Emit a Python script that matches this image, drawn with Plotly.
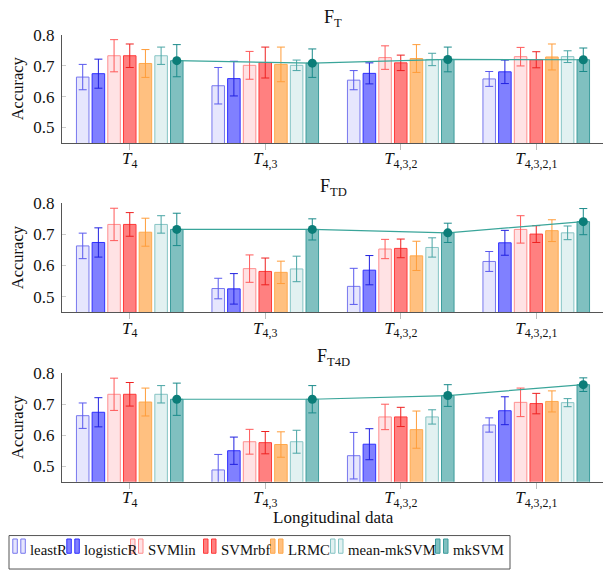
import plotly.graph_objects as go

# ---------------- data ----------------
categories = ["T4", "T4,3", "T4,3,2", "T4,3,2,1"]
tick_labels = ["<i>T</i><sub>4</sub>", "<i>T</i><sub>4,3</sub>",
               "<i>T</i><sub>4,3,2</sub>", "<i>T</i><sub>4,3,2,1</sub>"]
methods = ["leastR", "logisticR", "SVMlin", "SVMrbf", "LRMC", "mean-mkSVM", "mkSVM"]
panel_titles = ["F<sub>T</sub>", "F<sub>TD</sub>", "F<sub>T4D</sub>"]
y_ticks = [0.5, 0.6, 0.7, 0.8]

# mean accuracy, one list per method (over categories)
ft_mean = [
    [0.663, 0.635, 0.653, 0.657],
    [0.674, 0.658, 0.675, 0.680],
    [0.732, 0.701, 0.726, 0.729],
    [0.732, 0.710, 0.709, 0.719],
    [0.707, 0.704, 0.723, 0.728],
    [0.732, 0.701, 0.720, 0.729],
    [0.716, 0.708, 0.720, 0.719],
]
ft_err = [
    [0.041, 0.059, 0.031, 0.024],
    [0.047, 0.056, 0.034, 0.038],
    [0.052, 0.045, 0.038, 0.030],
    [0.038, 0.050, 0.025, 0.026],
    [0.045, 0.056, 0.045, 0.042],
    [0.028, 0.017, 0.020, 0.019],
    [0.052, 0.046, 0.040, 0.038],
]
ftd_mean = [
    [0.663, 0.526, 0.533, 0.613],
    [0.674, 0.525, 0.585, 0.673],
    [0.732, 0.590, 0.653, 0.716],
    [0.732, 0.581, 0.655, 0.701],
    [0.707, 0.578, 0.631, 0.712],
    [0.732, 0.589, 0.658, 0.705],
    [0.716, 0.716, 0.705, 0.741],
]
ftd_err = [
    [0.041, 0.033, 0.058, 0.032],
    [0.047, 0.049, 0.047, 0.040],
    [0.052, 0.044, 0.031, 0.044],
    [0.038, 0.043, 0.030, 0.027],
    [0.045, 0.036, 0.047, 0.035],
    [0.028, 0.041, 0.031, 0.022],
    [0.052, 0.034, 0.031, 0.042],
]
ft4d_mean = [
    [0.663, 0.488, 0.534, 0.633],
    [0.674, 0.550, 0.571, 0.679],
    [0.732, 0.579, 0.659, 0.706],
    [0.732, 0.576, 0.659, 0.702],
    [0.707, 0.570, 0.618, 0.709],
    [0.732, 0.579, 0.659, 0.705],
    [0.716, 0.716, 0.728, 0.763],
]
ft4d_err = [
    [0.041, 0.050, 0.075, 0.023],
    [0.047, 0.044, 0.050, 0.045],
    [0.052, 0.040, 0.041, 0.046],
    [0.038, 0.036, 0.031, 0.033],
    [0.045, 0.041, 0.060, 0.034],
    [0.028, 0.037, 0.023, 0.013],
    [0.052, 0.044, 0.035, 0.022],
]

panels = [(ft_mean, ft_err), (ftd_mean, ftd_err), (ft4d_mean, ft4d_err)]

# ---------------- styles ----------------
fill_colors = ["#e6e6fd", "#8080ff", "#ffe2e4", "#ff8080", "#ffc080", "#e2f1f1", "#80c0c0"]
line_colors = ["#7777ee", "#3030ff", "#ff8f8f", "#ff3a3a", "#ffa94d", "#86c4c4", "#3c9c9c"]
err_colors = ["#5a5aee", "#2020e0", "#ff5a5a", "#ee2020", "#ff9d3a", "#4aa5a5", "#1a8a8a"]
trend_line_color = "#3aa59a"
marker_color = "#0b7d78"

FONT = "Liberation Serif"
PAGE_W, PAGE_H = 611, 570
OFF = 8  # default body margin of the html page
W, H = PAGE_W - OFF, PAGE_H - OFF


def px_x(x):
    return (x - OFF) / W


def px_y(y):
    return 1 - (y - OFF) / H


X_DOM = [px_x(62), px_x(604)]
panel_px = [(26, 136), (197.3, 308), (370, 480.3)]
BARGAP = 0.19
BARGROUPGAP = 0.2
N = len(methods)

fig = go.Figure()
x_idx = list(range(len(categories)))
slot = (1 - BARGAP) / N
mk_offset = (N - 1 - (N - 1) / 2) * slot

for p, (means, errs) in enumerate(panels):
    xa = "x" if p == 0 else f"x{p + 1}"
    ya = "y" if p == 0 else f"y{p + 1}"
    for k, name in enumerate(methods):
        fig.add_trace(go.Bar(
            x=x_idx, y=means[k], name=name, xaxis=xa, yaxis=ya,
            marker=dict(color=fill_colors[k], line=dict(color=line_colors[k], width=1)),
            error_y=dict(type="data", array=errs[k], color=err_colors[k],
                         thickness=1, width=4),
            showlegend=False,
        ))
    mk = means[N - 1]
    fig.add_trace(go.Scatter(
        x=[i + mk_offset for i in x_idx], y=mk, mode="lines+markers",
        xaxis=xa, yaxis=ya, showlegend=False,
        line=dict(color=trend_line_color, width=1.2),
        marker=dict(color=marker_color, size=9),
    ))

layout = dict(
    width=W, height=H, margin=dict(l=0, r=0, t=0, b=0),
    paper_bgcolor="white", plot_bgcolor="white",
    barmode="group", bargap=BARGAP, bargroupgap=BARGROUPGAP,
    font=dict(family=FONT, size=17, color="#111"),
    showlegend=False,
)
annotations = []
for p in range(3):
    top_px, bot_px = panel_px[p]
    xkey = "xaxis" if p == 0 else f"xaxis{p + 1}"
    ykey = "yaxis" if p == 0 else f"yaxis{p + 1}"
    ya = "y" if p == 0 else f"y{p + 1}"
    layout[xkey] = dict(
        domain=X_DOM, anchor=ya, range=[-0.5, len(categories) - 0.5],
        tickvals=x_idx, ticktext=tick_labels, showgrid=False, zeroline=False,
        showline=True, linecolor="#555", linewidth=1.2,
        ticks="outside", ticklen=6, tickcolor="#bbb", tickwidth=1,
        ticklabelstandoff=-6, tickfont=dict(family=FONT, size=17, color="#111"),
    )
    layout[ykey] = dict(
        domain=[px_y(bot_px), px_y(top_px)], anchor="x" if p == 0 else f"x{p + 1}",
        range=[0.45, 0.8], tickvals=y_ticks, ticktext=[f"{v:.1f}" for v in y_ticks],
        showgrid=False, zeroline=False, showline=True, linecolor="#555", linewidth=1,
        ticks="inside", ticklen=4, tickcolor="#ccc", ticklabelstandoff=3,
        tickfont=dict(family=FONT, size=17, color="#111"),
    )
    annotations.append(dict(
        text=panel_titles[p], xref="paper", yref="paper",
        x=(X_DOM[0] + X_DOM[1]) / 2, y=px_y(top_px - 16),
        xanchor="center", yanchor="middle", showarrow=False,
        font=dict(family=FONT, size=18, color="#111"),
    ))
    annotations.append(dict(
        text="Accuracy", xref="paper", yref="paper", textangle=-90,
        x=px_x(17.5), y=px_y((top_px + bot_px) / 2),
        xanchor="center", yanchor="middle", showarrow=False,
        font=dict(family=FONT, size=16.5, color="#111"),
    ))

annotations.append(dict(
    text="Longitudinal data", xref="paper", yref="paper",
    x=(X_DOM[0] + X_DOM[1]) / 2, y=px_y(517), xanchor="center", yanchor="middle",
    showarrow=False, font=dict(family=FONT, size=17, color="#111"),
))

# ---------------- custom legend ----------------
legend_text_x = [29.3, 83.3, 147, 220, 287, 347, 452]
shapes = [dict(type="rect", xref="paper", yref="paper",
               x0=px_x(9), x1=px_x(510), y0=px_y(569), y1=px_y(535),
               line=dict(color="#555", width=1), fillcolor="rgba(0,0,0,0)")]
for k, name in enumerate(methods):
    ts = legend_text_x[k]
    for (a, b) in [(-16.5, -12), (-8.5, -4)]:
        shapes.append(dict(type="rect", xref="paper", yref="paper",
                           x0=px_x(ts + a), x1=px_x(ts + b),
                           y0=px_y(553), y1=px_y(538.5),
                           fillcolor=fill_colors[k],
                           line=dict(color=line_colors[k], width=1)))
    annotations.append(dict(
        text=name, xref="paper", yref="paper", x=px_x(ts - 1), y=px_y(550),
        xanchor="left", yanchor="middle", showarrow=False,
        font=dict(family=FONT, size=14.8, color="#111"),
    ))

layout["annotations"] = annotations
layout["shapes"] = shapes
fig.update_layout(**layout)
fig.write_html("out.html")
